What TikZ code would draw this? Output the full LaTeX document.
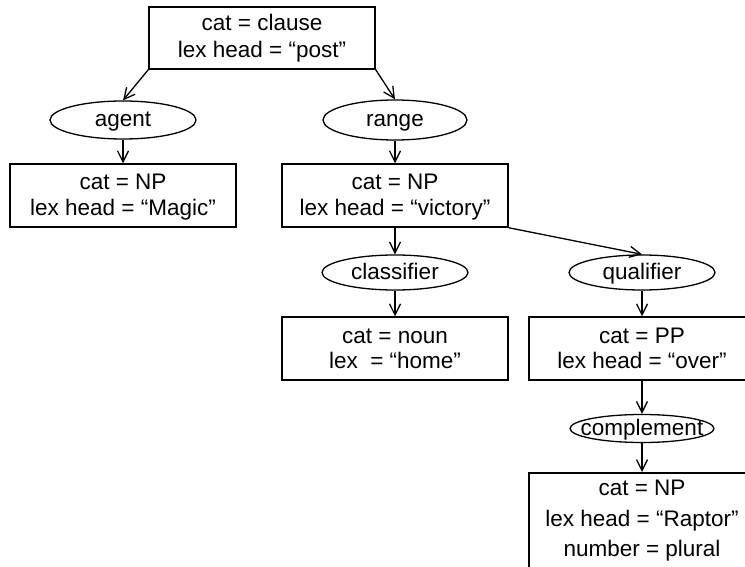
\documentclass[tikz,border=0pt]{standalone}
\usepackage{fontspec}
\setmainfont{Liberation Sans}
\usetikzlibrary{shapes.geometric,arrows.meta}
\begin{document}
\begin{tikzpicture}[x=1pt,y=-1pt,
  every node/.style={font=\fontsize{22.5}{25}\selectfont},
  % multi-line nodes sit on the baseline of their last line
  fbox/.style={draw, line width=1.5pt, inner sep=0pt, minimum width=226pt,
    align=center, text height=51pt, text depth=12pt},
  role/.style={draw, ellipse, line width=1.3pt, inner sep=0pt,
    minimum width=146pt, minimum height=38pt, text height=14pt, text depth=0pt},
  arr/.style={line width=1.3pt,
    -{Straight Barb[length=11pt,width=11pt,line width=1.3pt]}}]
\useasboundingbox (0,0) rectangle (745,567);

% feature structures and the roles linking them
\node[fbox, font=\fontsize{22.5}{27}\selectfont, text height=51pt, text depth=11pt]
  (clause) at (262,38) {cat = clause\\lex head = ``post''};
\node[role] (agent) at (123,120) {\makebox[0pt]{agent}};
\node[role, minimum width=144pt, minimum height=40pt] (range) at (395,120) {\makebox[0pt]{range}};
\node[fbox] (magic) at (123,195.5) {cat = NP\\lex head = ``Magic''};
\node[fbox] (victory) at (395,195.5) {cat = NP\\lex head = ``victory''};
\node[role, minimum height=35pt] (classifier) at (395,272.5) {\makebox[0pt]{classifier}};
\node[role, minimum height=35pt] (qualifier) at (642,272.5) {\makebox[0pt]{qualifier}};
\node[fbox] (home) at (395,348.5) {cat = noun\\lex~\ = ``home''};
\node[fbox] (over) at (642,348.5) {cat = PP\\lex head = ``over''};
\node[role, minimum width=144pt, minimum height=28pt] (complement) at (642,428.5) {\makebox[0pt]{complement}};
\node[fbox, anchor=north, font=\fontsize{22.5}{30.5}\selectfont, text height=84pt, text depth=90pt]
  (raptor) at (642,472) {cat = NP\\lex head = ``Raptor''\\number = plural};

% connectors
\draw[arr] (clause.south west) -- (agent.north);
\draw[arr] (clause.south east) -- (range.north);
\draw[arr] (agent.south) -- (magic.north);
\draw[arr] (range.south) -- (victory.north);
\draw[arr] (victory.south) -- (classifier.north);
\draw[arr] (victory.south east) -- (qualifier.north);
\draw[arr] (classifier.south) -- (home.north);
\draw[arr] (qualifier.south) -- (over.north);
\draw[arr] (over.south) -- (complement.north);
\draw[arr] (complement.south) -- (raptor.north);
\end{tikzpicture}
\end{document}
